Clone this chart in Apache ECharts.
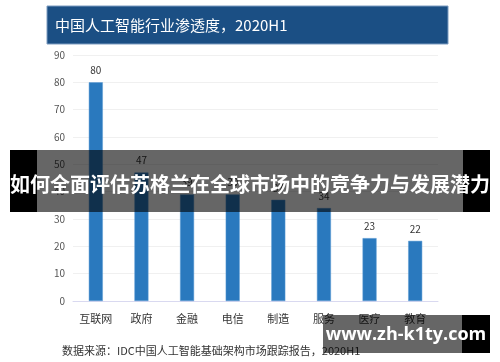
<!DOCTYPE html>
<html>
<head>
<meta charset="utf-8">
<script src="https://cdn.jsdelivr.net/npm/echarts@6/dist/echarts.min.js"></script>
<style>
html,body{margin:0;padding:0;background:#fff;}
#chart{width:500px;height:362px;}
</style>
</head>
<body>
<div id="chart"></div>
<script>
var categories = ['互联网', '政府', '金融', '电信', '制造', '服务', '医疗', '教育'];
var penetration = [80, 47, 39, 39, 37, 34, 23, 22];
var yTicks = [0, 10, 20, 30, 40, 50, 60, 70, 80, 90];
var titleText = '中国人工智能行业渗透度，2020H1';
var sourceText = '数据来源：IDC中国人工智能基础架构市场跟踪报告，2020H1';
var overlayText = '如何全面评估苏格兰在全球市场中的竞争力与发展潜力';
var urlText = 'www.zh-k1ty.com';

var FONT = '"Noto Sans CJK SC", "Noto Sans", sans-serif';
var chart = echarts.init(document.getElementById('chart'), null, {renderer: 'canvas'});
chart.setOption({
  animation: false,
  backgroundColor: '#ffffff',
  grid: {left: 73, right: 62, top: 55, bottom: 61, containLabel: false},
  xAxis: {
    type: 'category',
    data: categories,
    axisLine: {show: true, lineStyle: {color: '#d9d9f0', width: 1}},
    axisTick: {show: false},
    axisLabel: {color: '#333', fontSize: 11, fontFamily: FONT, margin: 12}
  },
  yAxis: {
    type: 'value',
    min: yTicks[0],
    max: yTicks[yTicks.length - 1],
    interval: 10,
    axisLine: {show: false},
    axisTick: {show: false},
    axisLabel: {color: '#555', fontSize: 10, fontFamily: FONT, margin: 8},
    splitLine: {lineStyle: {color: '#f0f0f0', width: 1}}
  },
  series: [{
    type: 'bar',
    data: penetration,
    barWidth: 14,
    itemStyle: {color: '#2a79be', borderColor: '#5b9bd5', borderWidth: 0.5},
    label: {show: true, position: 'top', color: '#333', fontSize: 10, fontFamily: FONT, distance: 7}
  }],
  graphic: [
    {type: 'rect', shape: {x: 47, y: 6, width: 401, height: 38}, style: {fill: '#1b4f84', stroke: '#7c9cc0', lineWidth: 1}, z: 10},
    {type: 'text', x: 55, y: 25, style: {text: titleText, fill: '#ffffff', font: '15px ' + FONT, textVerticalAlign: 'middle'}, z: 11},
    {type: 'text', x: 62, y: 351, style: {text: sourceText, fill: '#333', font: '11px ' + FONT, textVerticalAlign: 'middle'}, z: 11},
    {type: 'rect', shape: {x: 10, y: 150, width: 27, height: 62}, style: {fill: '#000'}, z: 20},
    {type: 'rect', shape: {x: 463, y: 150, width: 27, height: 62}, style: {fill: '#000'}, z: 20},
    {type: 'rect', shape: {x: 37, y: 150, width: 426, height: 62}, style: {fill: 'rgba(0,0,0,0.6)'}, z: 20},
    {type: 'text', x: 250, y: 184, style: {text: overlayText, fill: '#fff', font: 'bold 20px ' + FONT, textAlign: 'center', textVerticalAlign: 'middle'}, z: 21},
    {type: 'rect', shape: {x: 462, y: 315, width: 28, height: 38}, style: {fill: '#000'}, z: 20},
    {type: 'rect', shape: {x: 323, y: 315, width: 139, height: 38}, style: {fill: 'rgba(0,0,0,0.6)'}, z: 20},
    {type: 'text', x: 406, y: 335, style: {text: urlText, fill: '#fff', font: 'bold 18px "Open Sans", "Noto Sans", sans-serif', textAlign: 'center', textVerticalAlign: 'middle'}, z: 21}
  ]
});
</script>
</body>
</html>
